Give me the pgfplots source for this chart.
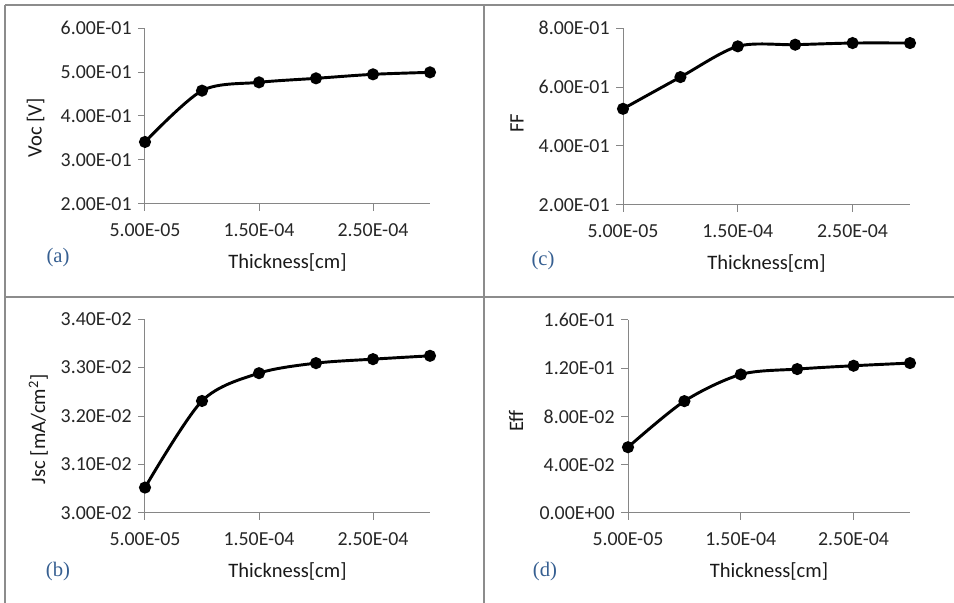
\documentclass[border=0pt]{standalone}
\usepackage{pgfplots}
\pgfplotsset{compat=1.18}
\usepackage{fontspec}
\setmainfont{Carlito}
\newfontfamily\capfont{Liberation Serif}
\definecolor{axisgray}{RGB}{134,134,134}
\definecolor{framegray}{RGB}{140,140,140}
\definecolor{capblue}{RGB}{54,95,145}

\pgfplotsset{panel/.style={
  scale only axis,
  /pgf/number format/assume math mode=true,
  axis x line*=bottom, axis y line*=left,
  axis line style={draw=axisgray, line width=0.75pt, -},
  tick style={draw=axisgray, line width=0.75pt},
  tick align=outside, major tick length=5pt,
  xmin=5e-5, xmax=3e-4,
  xtick={5e-5,1.5e-4,2.5e-4},
  xticklabels={5.00E-05,1.50E-04,2.50E-04},
  scaled ticks=false,
  tick label style={font=\fontsize{14.9}{17}\selectfont, text=black!85},
  xticklabel style={yshift=-6pt},
  yticklabel style={xshift=-1.5pt},
  label style={font=\fontsize{15.4}{18}\selectfont, text=black!90},
  xlabel={Thickness[cm]},
  xlabel style={at={(axis description cs:0.5,0)}, anchor=center, yshift=-43.5pt},
  clip=false,
  anchor=south west,
}}
\pgfplotsset{curve/.style={black, line width=2.2pt, smooth, mark=*, mark size=3.4pt, mark options={solid, fill=black, draw=black}}}

\begin{document}
\begin{tikzpicture}
\path[use as bounding box] (0,0) rectangle (715.5pt,452.25pt);
% frame lines
\draw[framegray, line width=1.1pt] (3.75pt,448.5pt) -- (715.5pt,448.5pt);
\draw[framegray, line width=1.1pt] (3.75pt,448.5pt) -- (3.75pt,0pt);
\draw[framegray, line width=1.1pt] (363pt,448.5pt) -- (363pt,0pt);
\draw[framegray, line width=1.1pt] (3.75pt,229.5pt) -- (715.5pt,229.5pt);

% (a) Voc
\begin{axis}[panel, at={(108.75pt,299.25pt)}, width=213.75pt, height=132pt,
  ymin=0.2, ymax=0.6, ytick={0.2,0.3,0.4,0.5,0.6},
  yticklabels={2.00E-01,3.00E-01,4.00E-01,5.00E-01,6.00E-01},
  ylabel={Voc [V]},
  ylabel style={at={(axis description cs:0,0.5)}, anchor=center, yshift=82pt, xshift=-9pt}]
\addplot[curve] coordinates {(5e-5,0.341) (1e-4,0.4576) (1.5e-4,0.4765) (2e-4,0.4856) (2.5e-4,0.4947) (3e-4,0.4992)};
\end{axis}

% (c) FF
\begin{axis}[panel, at={(467.25pt,298.5pt)}, width=215.25pt, height=132.75pt,
  ymin=0.2, ymax=0.8, ytick={0.2,0.4,0.6,0.8},
  yticklabels={2.00E-01,4.00E-01,6.00E-01,8.00E-01},
  ylabel={FF},
  ylabel style={at={(axis description cs:0,0.5)}, anchor=center, yshift=79.5pt, xshift=-5pt}]
\addplot[curve] coordinates {(5e-5,0.526) (1e-4,0.6336) (1.5e-4,0.7378) (2e-4,0.7434) (2.5e-4,0.749) (3e-4,0.749)};
\end{axis}

% (b) Jsc
\begin{axis}[panel, at={(108.75pt,67.5pt)}, width=213.75pt, height=145.5pt,
  ymin=0.030, ymax=0.034, ytick={0.030,0.031,0.032,0.033,0.034},
  yticklabels={3.00E-02,3.10E-02,3.20E-02,3.30E-02,3.40E-02},
  ylabel={Jsc [mA/cm\textsuperscript{2}]},
  ylabel style={at={(axis description cs:0,0.5)}, anchor=center, yshift=80pt, xshift=-10pt}]
\addplot[curve] coordinates {(5e-5,0.030524) (1e-4,0.032310) (1.5e-4,0.032883) (2e-4,0.033090) (2.5e-4,0.033172) (3e-4,0.033241)};
\end{axis}

% (d) Eff
\begin{axis}[panel, at={(471pt,67.5pt)}, width=211.5pt, height=144.75pt,
  ymin=0, ymax=0.16, ytick={0,0.04,0.08,0.12,0.16},
  yticklabels={0.00E+00,4.00E-02,8.00E-02,1.20E-01,1.60E-01},
  ylabel={Eff},
  ylabel style={at={(axis description cs:0,0.5)}, anchor=center, yshift=84pt, xshift=-3.5pt}]
\addplot[curve] coordinates {(5e-5,0.05453) (1e-4,0.09273) (1.5e-4,0.11488) (2e-4,0.11931) (2.5e-4,0.12208) (3e-4,0.12429)};
\end{axis}

\node[capblue, font=\capfont\fontsize{15.5}{18}\selectfont] at (43.5pt,258.75pt) {(a)};
\node[capblue, font=\capfont\fontsize{15.5}{18}\selectfont] at (407.25pt,256.5pt) {(c)};
\node[capblue, font=\capfont\fontsize{15.5}{18}\selectfont] at (43.5pt,23.25pt) {(b)};
\node[capblue, font=\capfont\fontsize{15.5}{18}\selectfont] at (408.75pt,23.25pt) {(d)};
\end{tikzpicture}
\end{document}
